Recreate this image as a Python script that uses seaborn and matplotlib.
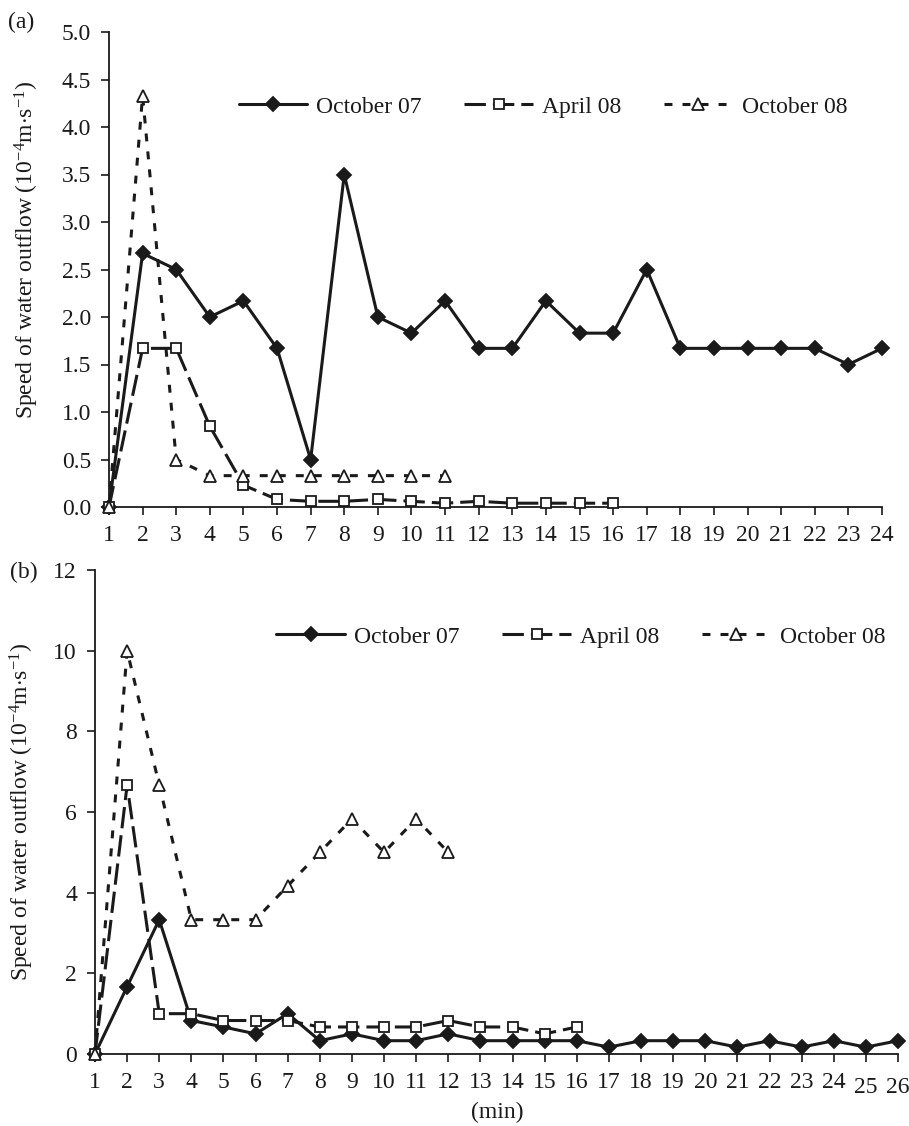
import numpy as np
import pandas as pd
import matplotlib
matplotlib.use("Agg")
import matplotlib.pyplot as plt
import matplotlib.transforms as mtransforms
import seaborn as sns

# ---- data (a) ----
a_oct07 = [0, 2.67, 2.5, 2.0, 2.17, 1.67, 0.5, 3.5, 2.0, 1.83, 2.17, 1.67, 1.67, 2.17,
           1.83, 1.83, 2.5, 1.67, 1.67, 1.67, 1.67, 1.67, 1.5, 1.67]
a_apr08 = [0, 1.67, 1.67, 0.85, 0.23, 0.08, 0.06, 0.06, 0.08, 0.06, 0.04, 0.06, 0.04, 0.04, 0.04, 0.04]
a_oct08 = [0, 4.33, 0.5, 0.33, 0.33, 0.33, 0.33, 0.33, 0.33, 0.33, 0.33]

# ---- data (b) ----
b_oct07 = [0, 1.67, 3.33, 0.83, 0.67, 0.5, 1.0, 0.33, 0.5, 0.33, 0.33, 0.5, 0.33, 0.33,
           0.33, 0.33, 0.17, 0.33, 0.33, 0.33, 0.17, 0.33, 0.17, 0.33, 0.17, 0.33]
b_apr08 = [0, 6.67, 1.0, 1.0, 0.83, 0.83, 0.83, 0.67, 0.67, 0.67, 0.67, 0.83, 0.67, 0.67, 0.5, 0.67]
b_oct08 = [0, 10.0, 6.67, 3.33, 3.33, 3.33, 4.17, 5.0, 5.83, 5.0, 5.83, 5.0]

series_names = ["October 07", "April 08", "October 08"]
a_yticks = [0.0, 0.5, 1.0, 1.5, 2.0, 2.5, 3.0, 3.5, 4.0, 4.5, 5.0]
b_yticks = [0, 2, 4, 6, 8, 10, 12]

FS = 17
INK = "#1a1a1a"

sns.set_theme(style="ticks")
plt.rcParams["font.family"] = ["Liberation Serif", "DejaVu Serif"]
plt.rcParams["mathtext.fontset"] = "custom"
plt.rcParams["mathtext.rm"] = "Liberation Serif"
plt.rcParams["mathtext.it"] = "Liberation Serif:italic"

W, H = 909, 1126
fig = plt.figure(figsize=(W / 100, H / 100), dpi=100)
ax1 = fig.add_axes([109 / W, 1 - 507 / H, (882 - 109) / W, (507 - 32) / H])
ax2 = fig.add_axes([95 / W, 1 - 1054 / H, (898 - 95) / W, (1054 - 570) / H])

styles = {
    "October 07": dict(marker="D", markersize=7, markerfacecolor=INK, dashes=None),
    "April 08": dict(marker="s", markersize=7.5, markerfacecolor="white", dashes=(7, 2.3)),
    "October 08": dict(marker="^", markersize=8.5, markerfacecolor="white", dashes=(2.6, 3.3)),
}


def draw(ax, vals_list, ymax, yticks, fmt, legend_anchor):
    for name, vals in zip(series_names, vals_list):
        df = pd.DataFrame({"t": np.arange(1, len(vals) + 1), "v": vals})
        st = styles[name]
        sns.lineplot(data=df, x="t", y="v", ax=ax, marker=st["marker"],
                     markersize=st["markersize"], markerfacecolor=st["markerfacecolor"],
                     markeredgecolor=INK, markeredgewidth=1.3, linewidth=2.2, color=INK,
                     label=name, clip_on=False)
        line = ax.get_lines()[-1]
        if st["dashes"] is not None:
            line.set_dashes(st["dashes"])
        line.set_zorder(3)
    n = max(len(v) for v in vals_list)
    ax.set_xlim(1, n)
    ax.set_ylim(0, ymax)
    ax.set_xticks(range(1, n + 1))
    ax.set_xticklabels([str(i) for i in range(1, n + 1)])
    ax.set_yticks(yticks)
    ax.set_yticklabels([fmt.format(v) for v in yticks])
    for s in ["top", "right"]:
        ax.spines[s].set_visible(False)
    for s in ["left", "bottom"]:
        ax.spines[s].set_linewidth(1.3)
        ax.spines[s].set_color(INK)
    ax.tick_params(axis="both", direction="out", length=6, width=1.2, color=INK,
                   labelsize=FS, labelcolor=INK)
    ax.tick_params(axis="x", pad=7)
    ax.tick_params(axis="y", pad=7)
    ax.set_xlabel("")
    ax.set_ylabel("")
    leg = ax.legend(loc="center", bbox_to_anchor=legend_anchor, ncol=3, frameon=False,
                    fontsize=FS, handlelength=2.9, columnspacing=1.8, handletextpad=0.4)
    for t in leg.get_texts():
        t.set_color(INK)


draw(ax1, [a_oct07, a_apr08, a_oct08], 5.0, a_yticks, "{:.1f}", ((543 - 109) / 773, (507 - 107) / 475))
draw(ax2, [b_oct07, b_apr08, b_oct08], 12, b_yticks, "{:d}", ((581 - 95) / 803, (1054 - 637) / 484))

ylab = r"Speed of water outflow (10$^{-4}$m$\cdot$s$^{-1}$)"
fig.text(27 / W, 1 - 250 / H, ylab, rotation=90, ha="center", va="center", fontsize=FS, color=INK)
fig.text(22 / W, 1 - 812 / H, ylab, rotation=90, ha="center", va="center", fontsize=FS, color=INK)

fig.text(8 / W, 1 - 22 / H, "(a)", fontsize=FS, color=INK, va="center")
fig.text(10 / W, 1 - 572 / H, "(b)", fontsize=FS, color=INK, va="center")
fig.text(497 / W, 1 - 1112 / H, "(min)", fontsize=FS, color=INK, ha="center", va="center")

# the last two tick labels of panel (b) sit slightly lower in the original
off = mtransforms.ScaledTranslation(0, -5 / 100, fig.dpi_scale_trans)
for lbl in ax2.get_xticklabels()[-2:]:
    lbl.set_transform(lbl.get_transform() + off)

fig.savefig("out.png", dpi=100)
